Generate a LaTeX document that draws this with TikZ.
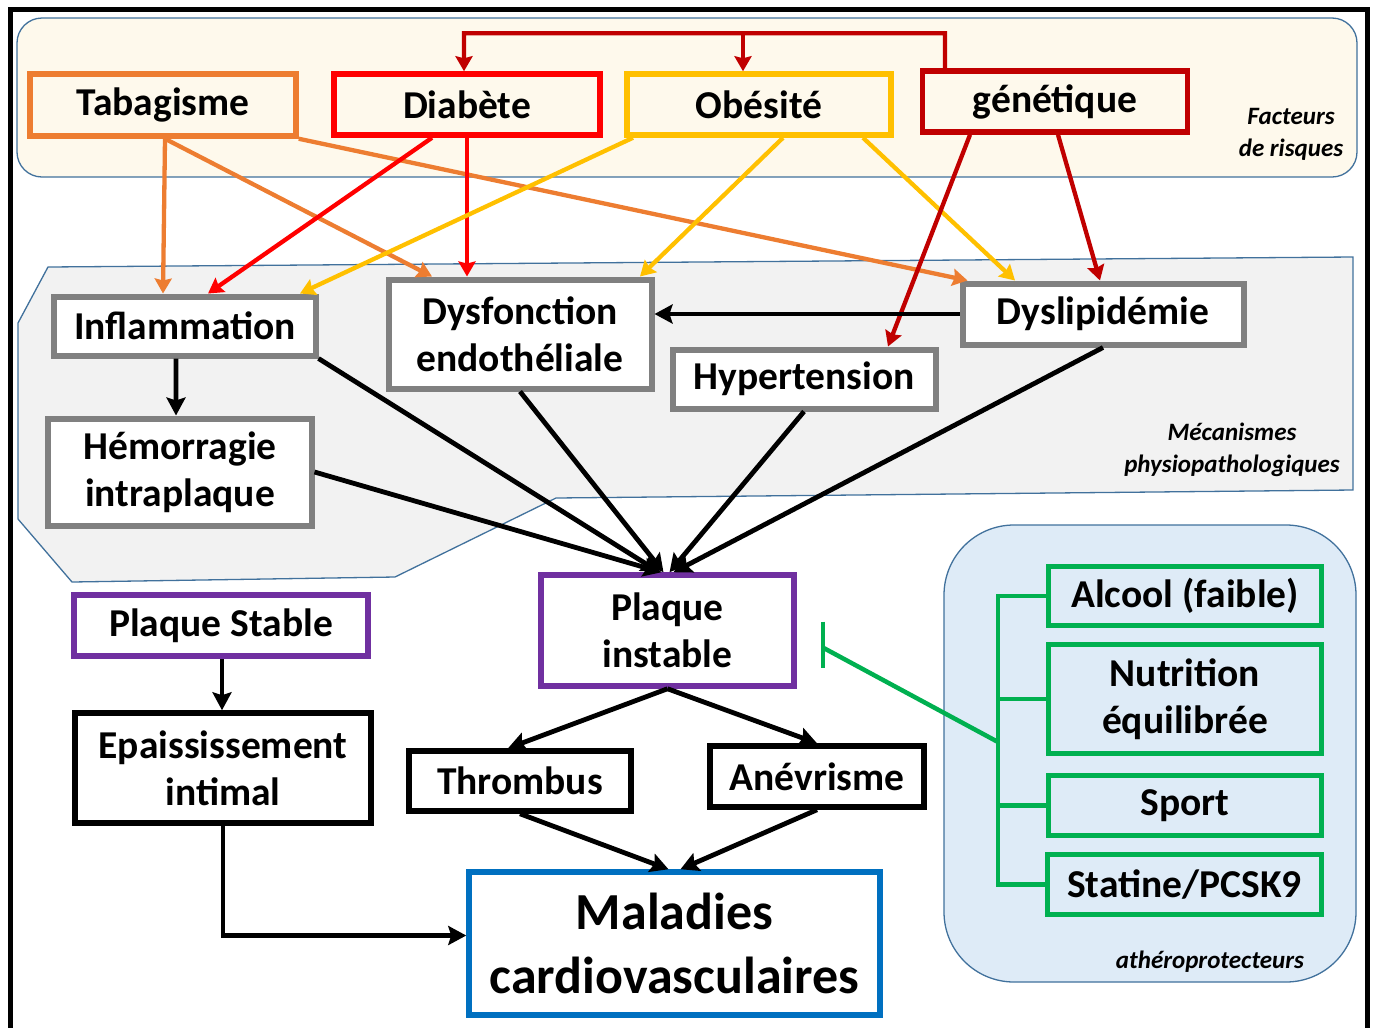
\documentclass[tikz,border=0pt]{standalone}
\usepackage{fontspec}
\setmainfont{Carlito}
\usetikzlibrary{arrows.meta,calc}
\definecolor{cOr}{HTML}{ED7D31}
\definecolor{cRed}{HTML}{FF0000}
\definecolor{cGold}{HTML}{FFC000}
\definecolor{cDRed}{HTML}{C00000}
\definecolor{cGray}{HTML}{808080}
\definecolor{cPurp}{HTML}{7030A0}
\definecolor{cBlue}{HTML}{0070C0}
\definecolor{cGreen}{HTML}{00B050}
\definecolor{cReg}{HTML}{41719C}
\definecolor{cCream}{HTML}{FEF9EC}
\definecolor{cLGray}{HTML}{F2F2F2}
\definecolor{cLBlue}{HTML}{DEEBF7}
\begin{document}
\begin{tikzpicture}[x=1bp,y=-1bp,
  box/.style={draw, line width=5.5bp, inner sep=0pt, align=center,
    font=\fontsize{39.5bp}{47bp}\selectfont\bfseries},
  mech/.style={box, draw=cGray, fill=white, line width=6bp},
  prot/.style={box, draw=cGreen, line width=5.5bp},
  lab/.style={align=center, font=\fontsize{25bp}{32bp}\selectfont\bfseries\itshape},
  reg/.style={draw=cReg, line width=1.3bp},
  arr/.style={line width=4.3bp, -{Stealth[length=15bp,width=17bp,inset=2bp]}},
  blk/.style={line width=4.8bp, -{Stealth[length=18bp,width=19bp,inset=3bp]}},
  grn/.style={cGreen, line width=4.5bp}
]
\useasboundingbox (0,0) rectangle (1373,1027);
% frame
\draw[line width=5bp] (10,1040) -- (10,9) -- (1367,9) -- (1367,1040);
% regions
\draw[reg, fill=cCream, rounded corners=25bp] (17,18) rectangle (1357,177);
\draw[reg, fill=cLGray] (48,267) -- (1353,257) -- (1353,490) -- (556,498) -- (395,577) -- (72,582) -- (18,519) -- (18,323) -- cycle;
\draw[reg, fill=cLBlue, rounded corners=70bp] (944,525) rectangle (1356,982);
% region labels
\node[lab] (flab) at (1291,134) {Facteurs\\de risques};
\node[lab] (mlab) at (1232,450) {Mécanismes\\physiopathologiques};
\node[lab] (alab) at (1210,962) {athéroprotecteurs};
% risk factors
\node[box, draw=cOr, minimum width=266bp, minimum height=62bp] (tab) at (163,105) {Tabagisme};
\node[box, draw=cRed, minimum width=266bp, minimum height=61bp] (dia) at (467,104.5) {Diabète};
\node[box, draw=cGold, minimum width=264bp, minimum height=61bp] (obe) at (759,104.5) {Obésité};
\node[box, draw=cDRed, minimum width=265bp, minimum height=61bp] (gen) at (1055,101.5) {génétique};
% mechanisms
\node[mech, minimum width=261bp, minimum height=59bp] (infl) at (185,326) {Inflammation};
\node[mech, minimum width=263bp, minimum height=109bp] (dys) at (520,334) {Dysfonction\\endothéliale};
\node[mech, minimum width=281bp, minimum height=61bp] (dysl) at (1103,314) {Dyslipidémie};
\node[mech, minimum width=263bp, minimum height=59bp] (hyp) at (804,379) {Hypertension};
\node[mech, minimum width=263bp, minimum height=107bp] (hem) at (180,472) {Hémorragie\\intraplaque};
% outcomes
\node[box, draw=cPurp, fill=white, minimum width=294bp, minimum height=61bp] (stab) at (221,625.5) {Plaque Stable};
\node[box, draw=cPurp, fill=white, minimum width=253bp, minimum height=111bp] (inst) at (667.5,630.5) {Plaque\\instable};
\node[box, draw=black, fill=white, minimum width=296bp, minimum height=110bp] (epa) at (223,768) {Epaississement\\intimal};
\node[box, draw=black, fill=white, minimum width=222bp, minimum height=60bp] (thr) at (520,781) {Thrombus};
\node[box, draw=black, fill=white, minimum width=214bp, minimum height=61bp] (anev) at (817,776.5) {Anévrisme};
\node[box, draw=cBlue, fill=white, minimum width=411bp, minimum height=143bp,
  font=\fontsize{52bp}{64bp}\selectfont\bfseries] (mal) at (674.5,943.5) {Maladies\\cardiovasculaires};
% protective
\node[prot, minimum width=273bp, minimum height=59bp] (alc) at (1185,596) {Alcool (faible)};
\node[prot, minimum width=273bp, minimum height=109bp] (nut) at (1185,699) {Nutrition\\équilibrée};
\node[prot, minimum width=273bp, minimum height=60bp] (spo) at (1185,805.5) {Sport};
\node[prot, minimum width=274bp, minimum height=60bp] (sta) at (1184.5,884.5) {Statine/PCSK9};

% genetic top connector
\coordinate (gbar) at ($(gen.north)+(-110,-35)$);
\coordinate (obetop) at ([xshift=-16bp]obe.north);
\draw[arr, cDRed] ([xshift=-110bp]gen.north) -- (gbar) -| ([xshift=-3bp]dia.north);
\draw[arr, cDRed] (gbar -| obetop) -- (obetop);
% orange
\draw[arr, cOr] ([xshift=2bp]tab.south) -- ([xshift=-22bp]infl.north);
\draw[arr, cOr] ([xshift=2bp]tab.south) -- ([xshift=-88bp]dys.north);
\draw[arr, cOr] (tab.south east) -- ([xshift=8bp]dysl.north west);
% red
\draw[arr, cRed] ([xshift=-35bp]dia.south) -- ([xshift=23bp]infl.north);
\draw[arr, cRed] (dia.south) -- (dia.south |- dys.north);
% gold
\draw[arr, cGold] ([xshift=-126bp]obe.south) -- ([xshift=115bp]infl.north);
\draw[arr, cGold] ([xshift=24bp]obe.south) -- ([xshift=120bp]dys.north);
\draw[arr, cGold] ([xshift=104bp]obe.south) -- ([xshift=-88bp]dysl.north);
% dark red
\draw[arr, cDRed] ([xshift=-85bp]gen.south) -- ([xshift=84bp]hyp.north);
\draw[arr, cDRed] ([xshift=3bp]gen.south) -- ([xshift=-3bp]dysl.north);
% black
\draw[blk] (dysl.west) -- (dysl.west -| dys.east);
\draw[blk] ([xshift=-9bp]infl.south) -- ([xshift=-4bp]hem.north);
\draw[blk] (infl.south east) -- ([xshift=-8bp]inst.north);
\draw[blk] (hem.east) -- ([xshift=-6bp]inst.north);
\draw[blk] (dys.south) -- ([xshift=-4bp]inst.north);
\draw[blk] (hyp.south) -- ([xshift=2bp]inst.north);
\draw[blk] (dysl.south) -- ([xshift=6bp]inst.north);
\draw[blk] ([xshift=1bp]stab.south) -- ([xshift=-1bp]epa.north);
\draw[blk] (inst.south) -- ([xshift=-12bp]thr.north);
\draw[blk] (inst.south) -- (anev.north);
\draw[blk] (thr.south) -- ([xshift=-6bp]mal.north);
\draw[blk] (anev.south) -- ([xshift=6bp]mal.north);
\draw[blk] (epa.south) |- ([yshift=8bp]mal.west);
% green bracket and inhibition
\coordinate (br) at (998,0);
\coordinate (gs) at (998,742);
\coordinate (inh) at ([xshift=26bp,yshift=-17bp]inst.east);
\draw[grn] (alc.west) -- (alc.west -| br) -- (sta.west -| br) -- (sta.west);
\draw[grn] (nut.west) -- (nut.west -| br);
\draw[grn] (spo.west) -- (spo.west -| br);
\draw[grn] (gs) -- (inh);
\draw[grn] ([yshift=26bp]inh) -- ([yshift=-20bp]inh);
\end{tikzpicture}
\end{document}
